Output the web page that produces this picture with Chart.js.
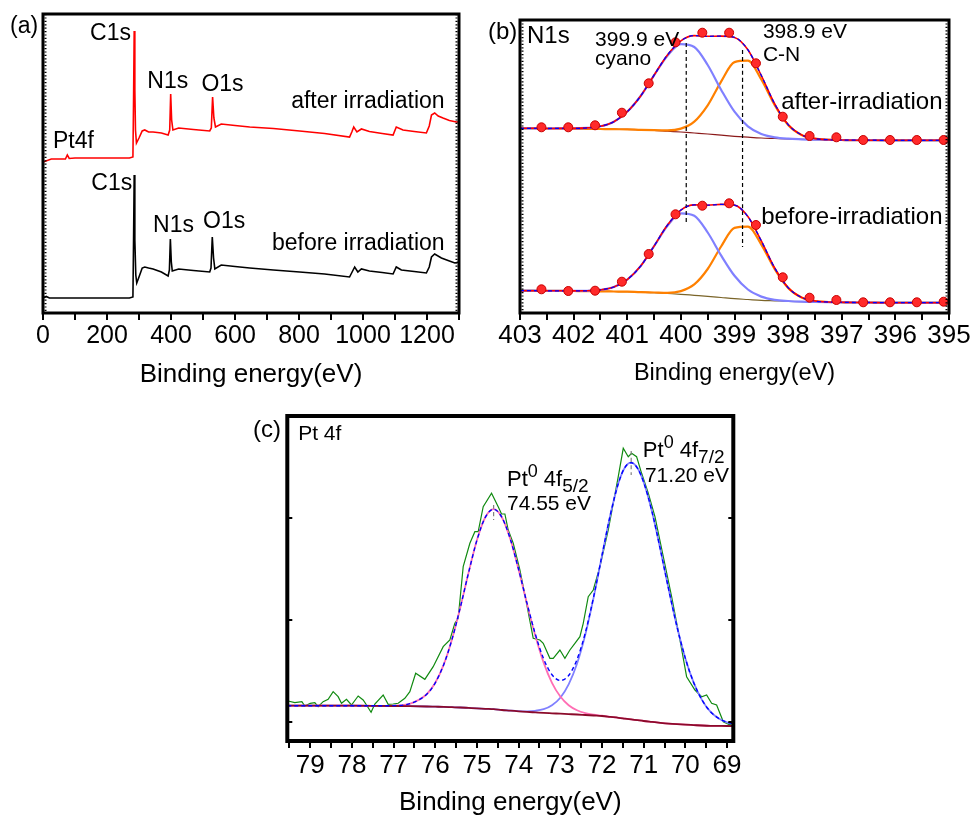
<!DOCTYPE html>
<html>
<head>
<meta charset="utf-8">
<title>XPS spectra</title>
<script src="https://cdn.jsdelivr.net/npm/chart.js@4.4.1/dist/chart.umd.min.js"></script>
<style>
  html, body { margin: 0; padding: 0; background: #fff; }
  body { width: 973px; height: 820px; position: relative; overflow: hidden; }
  canvas { position: absolute; }
  #surveyChart { left: 0; top: 0; }
  #n1sChart { left: 480px; top: 0; }
  #pt4fChart { left: 250px; top: 405px; }
</style>
</head>
<body>
<canvas id="surveyChart" width="480" height="400"></canvas>
<canvas id="n1sChart" width="493" height="400"></canvas>
<canvas id="pt4fChart" width="500" height="415"></canvas>
<script>
// ---- (a) survey spectra ----
const surveyRedEnergy = [0, 26, 52, 70, 76, 82, 100, 200, 270, 281, 283, 285, 287, 289, 292, 300, 310, 318, 330, 344,
  370, 391, 396, 399, 402, 406, 424, 470, 521, 526, 530, 534, 539, 557, 600, 646, 720, 802, 880, 958,
  965, 971, 981, 995, 1020, 1060, 1094, 1104, 1125, 1160, 1198, 1207, 1214, 1224, 1235, 1250, 1270, 1292, 1300];
const surveyRed = [151, 154, 154, 154, 158, 154.5, 155, 155, 155, 156, 213, 282, 223, 183, 170, 175, 182, 183, 181, 181,
  180, 178, 183, 219, 193, 183, 185, 183.5, 182, 185, 216, 195, 186, 189, 187.5, 186, 184.5, 182, 179.5, 176,
  181, 186, 181, 184, 181.5, 179.5, 178, 186, 183, 181.5, 180, 187, 198, 200, 197, 195, 192.5, 191, 191];
const surveyBlackEnergy = [0, 10, 20, 270, 281, 283, 285, 287, 290, 293, 300, 310, 318, 330, 344, 370, 391, 395, 398, 401,
  404, 424, 470, 521, 525, 529, 533, 537, 557, 600, 646, 720, 802, 880, 958, 966, 974, 984, 995, 1020,
  1060, 1094, 1104, 1120, 1160, 1198, 1207, 1214, 1224, 1245, 1270, 1287, 1300];
const surveyBlack = [15, 16.5, 15, 15, 16, 73, 138, 73, 38, 30, 36, 45, 46, 45, 44, 41, 37, 43, 74, 51,
  42, 44, 42.5, 41, 45, 76, 55, 44, 48, 46.5, 45, 43, 41, 39, 36, 41, 46, 41, 44, 42,
  40.5, 39, 46, 43, 41.5, 40, 46, 56, 59, 55, 52, 50, 51];
const surveyTickLabels = [0, 200, 400, 600, 800, 1000, 1200];

// ---- (b) N1s ----
const n1sEnergy = [403, 402.75, 402.5, 402.25, 402, 401.75, 401.5, 401.25, 401, 400.75, 400.5, 400.25, 400, 399.75, 399.5, 399.25,
  399, 398.75, 398.5, 398.25, 398, 397.75, 397.5, 397.25, 397, 396.75, 396.5, 396.25, 396, 395.75, 395.5, 395.25, 395];
const afterBg = [184.7, 184.7, 184.5, 184.5, 184.3, 184.2, 184.0, 183.8, 183.7, 183.2, 182.7, 181.8, 181.0, 180.0, 179.0, 177.8,
  176.7, 175.8, 175.0, 174.5, 174.0, 173.7, 173.3, 173.2, 173.0, 172.8, 172.8, 172.7, 172.7, 172.7, 172.7, 172.7, 172.7];
const afterCyano = [184.7, 184.7, 184.5, 184.6, 184.6, 185.1, 186.7, 191.3, 201.3, 217.0, 237.7, 257.3, 268.8, 266.0, 248.0, 223.3,
  201.3, 186.7, 179.0, 175.7, 174.3, 173.7, 173.3, 173.2, 173.0, 172.8, 172.8, 172.7, 172.7, 172.7, 172.7, 172.7, 172.7];
const afterCN = [184.7, 184.7, 184.5, 184.5, 184.3, 184.2, 184.0, 183.8, 183.7, 183.2, 182.8, 182.6, 184.4, 191.4, 207.7, 231.4,
  250.9, 252.3, 233.5, 207.8, 188.1, 178.1, 174.4, 173.3, 173.0, 172.8, 172.8, 172.7, 172.7, 172.7, 172.7, 172.7, 172.7];
const afterFit = [184.7, 184.7, 184.5, 184.6, 184.6, 185.1, 186.7, 191.3, 201.3, 217.0, 237.8, 258.1, 272.2, 277.4, 276.7, 276.9,
  275.6, 263.2, 237.5, 209.0, 188.4, 178.1, 174.4, 173.3, 173.0, 172.8, 172.8, 172.7, 172.7, 172.7, 172.7, 172.7, 172.7];
const beforeBg = [22.3, 22.3, 22.2, 22.2, 22.0, 21.8, 21.7, 21.5, 21.3, 20.8, 20.3, 19.5, 18.7, 17.7, 16.7, 15.5,
  14.3, 13.5, 12.7, 12.2, 11.7, 11.3, 11.0, 10.8, 10.7, 10.5, 10.5, 10.3, 10.3, 10.3, 10.3, 10.3, 10.3];
const beforeCyano = [22.3, 22.3, 22.2, 22.2, 22.1, 22.2, 23.1, 26.0, 33.4, 46.9, 66.8, 87.2, 99.7, 97.2, 80.5, 57.6,
  37.2, 23.5, 16.4, 13.2, 12.0, 11.3, 11.0, 10.8, 10.7, 10.5, 10.5, 10.3, 10.3, 10.3, 10.3, 10.3, 10.3];
const beforeCN = [22.3, 22.3, 22.2, 22.2, 22.0, 21.8, 21.7, 21.5, 21.3, 20.8, 20.5, 20.2, 21.9, 28.6, 44.0, 66.5,
  85.1, 86.4, 68.4, 43.9, 25.1, 15.6, 12.0, 11.0, 10.7, 10.5, 10.5, 10.3, 10.3, 10.3, 10.3, 10.3, 10.3];
const beforeFit = [22.3, 22.3, 22.2, 22.2, 22.1, 22.2, 23.1, 26.0, 33.4, 46.9, 66.9, 87.9, 102.9, 108.1, 107.8, 108.6,
  107.9, 96.4, 72.1, 45.0, 25.4, 15.6, 12.0, 11.0, 10.7, 10.5, 10.5, 10.3, 10.3, 10.3, 10.3, 10.3, 10.3];
const n1sDotEnergy = [402.6, 402.1, 401.6, 401.1, 400.6, 400.1, 399.6, 399.1, 398.6, 398.1, 397.6, 397.1, 396.6, 396.1, 395.6, 395.1];
const afterDots = [185.7, 185.7, 187.7, 200.3, 229.7, 270.7, 280.3, 280.3, 249.7, 196.3, 177, 175.7, 173, 173, 173, 173];
const beforeDots = [23.7, 22, 22.3, 31.3, 59, 98.7, 107.3, 109.7, 88, 35.7, 15.3, 13, 10.7, 10.7, 10.7, 11.3];
const n1sPeakEnergy = [399.9, 398.85];
const n1sPeakTop = [270, 263];
const n1sPeakBottom = [88, 66];
const n1sTickLabels = [403, 402, 401, 400, 399, 398, 397, 396, 395];

// ---- (c) Pt 4f ----
const pt4fRawEnergy = [79.53, 79.37, 79.2, 79.13, 79.0, 78.89, 78.81, 78.69, 78.57, 78.45, 78.33, 78.25, 78.13, 78.01, 77.85, 77.73,
  77.65, 77.54, 77.45, 77.25, 77.13, 77.01, 76.89, 76.73, 76.61, 76.47, 76.25, 76.05, 75.81, 75.65, 75.53, 75.45, 75.33, 75.17,
  75.05, 74.97, 74.85, 74.65, 74.49, 74.41, 74.33, 74.25, 74.13, 73.97, 73.81, 73.65, 73.49, 73.41, 73.25, 73.17, 73.01, 72.89,
  72.77, 72.65, 72.53, 72.45, 72.33, 72.21, 72.05, 71.85, 71.73, 71.61, 71.49, 71.37, 71.29, 71.17, 71.05, 70.89, 70.73, 70.53,
  70.33, 70.13, 69.97, 69.77, 69.61, 69.49, 69.37, 69.25, 69.09, 68.93, 68.85];
const pt4fRaw = [40, 38.3, 39.3, 35, 37.7, 38.3, 34.3, 39.3, 41.7, 49.3, 44.3, 37.7, 41.7, 36, 45, 41,
  36, 28.7, 37, 46, 36.7, 37, 37.7, 42.7, 49.3, 67.7, 61.7, 74.3, 94.3, 101, 117.7, 122.7, 174.3, 197.7,
  209.3, 209.3, 234.3, 247.7, 234.3, 227, 227, 211, 197.7, 171, 137.7, 102.7, 101, 97.7, 82.7, 82.7, 91, 82.7,
  91, 97.7, 104.3, 117.7, 144.3, 151, 174.3, 211, 237.7, 264.3, 292.7, 284.3, 287.7, 284.3, 267.7, 247.7, 224.3, 184.3,
  144.3, 101, 64.3, 51, 44.3, 46, 37.7, 36, 19.3, 16, 21];
const pt4fEnergy = [79.55, 79.0, 78.5, 78.0, 77.5, 77.0, 76.6, 76.2, 76.0, 75.8, 75.6, 75.4, 75.2, 75.0, 74.8, 74.6,
  74.4, 74.2, 74.0, 73.8, 73.6, 73.4, 73.2, 73.0, 72.8, 72.6, 72.4, 72.2, 72.0, 71.8, 71.6, 71.45,
  71.3, 71.15, 71.0, 70.8, 70.6, 70.4, 70.2, 70.0, 69.8, 69.6, 69.4, 69.2, 69.0, 68.85];
const pt4fBg = [35.3, 35.3, 35.3, 35.3, 35.2, 35.0, 34.8, 34.5, 34.3, 34.1, 33.8, 33.5, 33.1, 32.7, 32.2, 31.8,
  31.0, 30.4, 29.7, 29.1, 28.6, 28.1, 27.7, 27.3, 26.9, 26.5, 26.0, 25.5, 25.0, 24.1, 23.2, 22.4,
  21.6, 20.8, 20.0, 19.1, 18.2, 17.4, 16.8, 16.3, 15.9, 15.5, 15.2, 15.1, 15.0, 15.0];
const pt4f52 = [35.3, 35.3, 35.3, 35.3, 35.2, 35.4, 37.4, 47.0, 58.2, 76.1, 101.5, 133.5, 168.5, 200.9, 223.7, 231.8,
  223.5, 202.0, 171.3, 137.3, 105.3, 78.4, 58.2, 44.5, 35.8, 30.8, 27.9, 26.3, 25.3, 24.1, 23.2, 22.4,
  21.6, 20.8, 20.0, 19.1, 18.2, 17.4, 16.8, 16.3, 15.9, 15.5, 15.2, 15.1, 15.0, 15.0];
const pt4f72 = [35.3, 35.3, 35.3, 35.3, 35.2, 35.0, 34.8, 34.5, 34.3, 34.1, 33.8, 33.5, 33.1, 32.7, 32.2, 31.8,
  31.0, 30.4, 29.9, 29.7, 30.2, 31.8, 35.8, 43.3, 56.6, 77.2, 106.4, 143.6, 185.4, 226.1, 258.7, 273.6,
  278.3, 272.9, 258.8, 229.3, 191.6, 151.6, 114.2, 82.6, 58.3, 40.9, 29.4, 22.6, 18.7, 17.1];
const pt4fFit = [35.3, 35.3, 35.3, 35.3, 35.2, 35.4, 37.4, 47.0, 58.2, 76.1, 101.5, 133.5, 168.5, 200.9, 223.7, 231.8,
  223.5, 202.0, 171.5, 137.9, 106.9, 82.1, 66.3, 60.5, 65.5, 81.5, 108.3, 144.4, 185.7, 226.1, 258.7, 273.6,
  278.3, 272.9, 258.8, 229.3, 191.6, 151.6, 114.2, 82.6, 58.3, 40.9, 29.4, 22.6, 18.7, 17.1];
const pt4fPeakEnergy = [74.6, 71.3];
const pt4fPeakTop = [236, 290];
const pt4fPeakBottom = [221, 266];
const pt4fTickLabels = [79, 78, 77, 76, 75, 74, 73, 72, 71, 70, 69];

const FONT = "'Liberation Sans', Arial, sans-serif";

function pts(xs, ys) {
  return xs.map((x, i) => ({ x: x, y: ys[i] }));
}

function curve(data, color, width, extra) {
  return Object.assign({
    data: data, borderColor: color, borderWidth: width, pointRadius: 0, fill: false,
    cubicInterpolationMode: 'monotone'
  }, extra || {});
}

function markers(xs, tops, bottoms, color, order) {
  return xs.map((x, i) => curve([{ x: x, y: tops[i] }, { x: x, y: bottoms[i] }], color, 1.2,
    { borderDash: [4, 3], order: order }));
}

// thick box round the plot, plus the little inner ticks
const framePlugin = {
  id: 'frame',
  afterDatasetsDraw(chart, args, opts) {
    const { ctx, chartArea: a } = chart;
    ctx.save();
    ctx.strokeStyle = '#000';
    if (opts.dotted) {
      ctx.lineWidth = 2;
      ctx.setLineDash([1.2, 2.2]);
      ctx.beginPath();
      ctx.moveTo(a.left + 2.5, a.top); ctx.lineTo(a.left + 2.5, a.bottom);
      ctx.moveTo(a.right - 2.5, a.top); ctx.lineTo(a.right - 2.5, a.bottom);
      ctx.stroke();
      ctx.setLineDash([]);
    }
    if (opts.yTicks) {
      const ys = chart.scales.y;
      ctx.lineWidth = 2;
      ctx.beginPath();
      opts.yTicks.forEach(v => {
        const y = ys.getPixelForValue(v);
        ctx.moveTo(a.left, y); ctx.lineTo(a.left + 5, y);
        ctx.moveTo(a.right, y); ctx.lineTo(a.right - 5, y);
      });
      ctx.stroke();
    }
    ctx.lineWidth = opts.width || 3;
    ctx.strokeRect(a.left, a.top, a.right - a.left, a.bottom - a.top);
    ctx.restore();
  }
};

// peak names and panel letters
const notesPlugin = {
  id: 'notes',
  afterDraw(chart, args, opts) {
    const ctx = chart.ctx, xs = chart.scales.x, ys = chart.scales.y;
    (opts.items || []).forEach(n => {
      let x = n.px != null ? n.px : xs.getPixelForValue(n.x);
      const y = n.py != null ? n.py : ys.getPixelForValue(n.y);
      const parts = n.parts || [{ t: n.text, size: n.size }];
      ctx.save();
      ctx.fillStyle = '#000';
      ctx.textBaseline = 'alphabetic';
      ctx.textAlign = 'left';
      if (n.align === 'right') {
        let w = 0;
        parts.forEach(p => { ctx.font = p.size + 'px ' + FONT; w += ctx.measureText(p.t).width; });
        x -= w;
      }
      parts.forEach(p => {
        ctx.font = p.size + 'px ' + FONT;
        ctx.fillText(p.t, x, y + (p.dy || 0));
        x += ctx.measureText(p.t).width;
      });
      ctx.restore();
    });
  }
};

function bottomAxis(o) {
  return {
    type: 'linear', min: o.min, max: o.max, reverse: !!o.reverse,
    afterFit: s => { s.height = o.height; },
    border: { display: false },
    grid: { drawOnChartArea: false, drawTicks: true, tickLength: 7, color: '#000', lineWidth: 2 },
    ticks: {
      stepSize: o.step, autoSkip: false, maxRotation: 0, minRotation: 0, includeBounds: false,
      padding: o.pad, color: '#000', font: { family: FONT, size: o.tickSize },
      callback: v => (o.labels.includes(v) ? String(v) : '')
    },
    title: { display: true, text: 'Binding energy(eV)', color: '#000', padding: 0, font: { family: FONT, size: o.titleSize } }
  };
}

function baseOptions(o) {
  return {
    responsive: false, animation: false, events: [],
    layout: { padding: o.padding },
    plugins: { legend: { display: false }, tooltip: { enabled: false }, frame: o.frame, notes: { items: o.notes } },
    scales: { x: o.x, y: { display: false, min: 0, max: o.ymax } }
  };
}

// ---------- (a) ----------
new Chart(document.getElementById('surveyChart'), {
  type: 'line',
  data: {
    datasets: [
      curve(pts(surveyRedEnergy, surveyRed), '#ff0000', 1.6, { cubicInterpolationMode: 'default', tension: 0 }),
      curve(pts(surveyBlackEnergy, surveyBlack), '#000000', 1.6, { cubicInterpolationMode: 'default', tension: 0 })
    ]
  },
  options: baseOptions({
    padding: { left: 43, right: 21, top: 14, bottom: 9.5 },
    ymax: 299,
    frame: { width: 3, dotted: true },
    x: bottomAxis({ min: 0, max: 1300, step: 100, labels: surveyTickLabels, height: 77.5, pad: 1, tickSize: 25, titleSize: 26 }),
    notes: [
      { px: 10, py: 33, text: '(a)', size: 23 },
      { x: 147, y: 273, text: 'C1s', size: 23 },
      { x: 326, y: 225, text: 'N1s', size: 23 },
      { x: 495, y: 222, text: 'O1s', size: 23 },
      { x: 1255, y: 205, text: 'after irradiation', size: 23, align: 'right' },
      { x: 31, y: 165, text: 'Pt4f', size: 23 },
      { x: 151, y: 123, text: 'C1s', size: 23 },
      { x: 344, y: 81, text: 'N1s', size: 23 },
      { x: 500, y: 85, text: 'O1s', size: 23 },
      { x: 1255, y: 63, text: 'before irradiation', size: 23, align: 'right' }
    ]
  }),
  plugins: [framePlugin, notesPlugin]
});

// ---------- (b) ----------
const dotStyle = { showLine: false, pointRadius: 4.5, pointBackgroundColor: '#ff2a2a', pointBorderColor: '#c80000', pointBorderWidth: 1, order: 0 };
new Chart(document.getElementById('n1sChart'), {
  type: 'line',
  data: {
    datasets: [
      curve(pts(n1sDotEnergy, afterDots), '#ff2a2a', 0, dotStyle),
      curve(pts(n1sDotEnergy, beforeDots), '#ff2a2a', 0, dotStyle),
      curve(pts(n1sEnergy, afterFit), '#0000ff', 1.3, { borderDash: [4, 3], order: 1 }),
      curve(pts(n1sEnergy, beforeFit), '#0000ff', 1.3, { borderDash: [4, 3], order: 1 }),
      curve(pts(n1sEnergy, afterFit), '#ff0000', 1.6, { order: 2 }),
      curve(pts(n1sEnergy, beforeFit), '#ff0000', 1.6, { order: 2 }),
      ...markers(n1sPeakEnergy, n1sPeakTop, n1sPeakBottom, '#000000', 1.5),
      curve(pts(n1sEnergy, afterCyano), '#8080ff', 2.2, { order: 3 }),
      curve(pts(n1sEnergy, beforeCyano), '#8080ff', 2.2, { order: 3 }),
      curve(pts(n1sEnergy, afterCN), '#ff8000', 2.2, { order: 4 }),
      curve(pts(n1sEnergy, beforeCN), '#ff8000', 2.2, { order: 4 }),
      curve(pts(n1sEnergy, afterBg), '#8b1a1a', 1.2, { order: 5 }),
      curve(pts(n1sEnergy, beforeBg), '#7a6428', 1.2, { order: 5 })
    ]
  },
  options: baseOptions({
    padding: { left: 40, right: 24, top: 20, bottom: 12 },
    ymax: 293,
    frame: { width: 3, dotted: true },
    x: bottomAxis({ min: 395, max: 403, reverse: true, step: 0.5, labels: n1sTickLabels, height: 75, pad: 0, tickSize: 26, titleSize: 23.5 }),
    notes: [
      { px: 8, py: 38.5, text: '(b)', size: 24 },
      { x: 402.87, y: 270, text: 'N1s', size: 24 },
      { x: 401.6, y: 267, text: '399.9 eV', size: 21 },
      { x: 401.6, y: 248, text: 'cyano', size: 21 },
      { x: 398.47, y: 274.7, text: '398.9 eV', size: 21 },
      { x: 398.47, y: 252.3, text: 'C-N', size: 21 },
      { x: 395.12, y: 203.7, text: 'after-irradiation', size: 24, align: 'right' },
      { x: 395.12, y: 89, text: 'before-irradiation', size: 24, align: 'right' }
    ]
  }),
  plugins: [framePlugin, notesPlugin]
});

// ---------- (c) ----------
new Chart(document.getElementById('pt4fChart'), {
  type: 'line',
  data: {
    datasets: [
      curve(pts(pt4fEnergy, pt4fFit), '#0000ff', 1.4, { borderDash: [4, 3], order: 0 }),
      ...markers(pt4fPeakEnergy, pt4fPeakTop, pt4fPeakBottom, '#808080', 0.5),
      curve(pts(pt4fEnergy, pt4fBg), '#8b0a2a', 1.8, { order: 0.8 }),
      curve(pts(pt4fEnergy, pt4f52), '#ff6eb4', 1.8, { order: 1 }),
      curve(pts(pt4fEnergy, pt4f72), '#8080ff', 1.8, { order: 1 }),
      curve(pts(pt4fRawEnergy, pt4fRaw), '#108a10', 1.2, { cubicInterpolationMode: 'default', tension: 0, order: 2 })
    ]
  },
  options: baseOptions({
    padding: { left: 37.3, right: 16.7, top: 11, bottom: 1.4 },
    ymax: 325,
    frame: { width: 4, yTicks: [19, 121, 223] },
    x: bottomAxis({ min: 68.85, max: 79.55, reverse: true, step: 0.5, labels: pt4fTickLabels, height: 77.6, pad: 2, tickSize: 26, titleSize: 26 }),
    notes: [
      { px: 3, py: 32, text: '(c)', size: 24 },
      { x: 79.29, y: 301, text: 'Pt 4f', size: 21 },
      { x: 74.28, y: 255, parts: [{ t: 'Pt', size: 22 }, { t: '0', size: 18, dy: -9 }, { t: ' 4f', size: 22 }, { t: '5/2', size: 19, dy: 6 }] },
      { x: 74.28, y: 231, text: '74.55 eV', size: 21 },
      { x: 71.02, y: 284.3, parts: [{ t: 'Pt', size: 22 }, { t: '0', size: 18, dy: -9 }, { t: ' 4f', size: 22 }, { t: '7/2', size: 19, dy: 6 }] },
      { x: 70.97, y: 259.3, text: '71.20 eV', size: 21 }
    ]
  }),
  plugins: [framePlugin, notesPlugin]
});
</script>
</body>
</html>
